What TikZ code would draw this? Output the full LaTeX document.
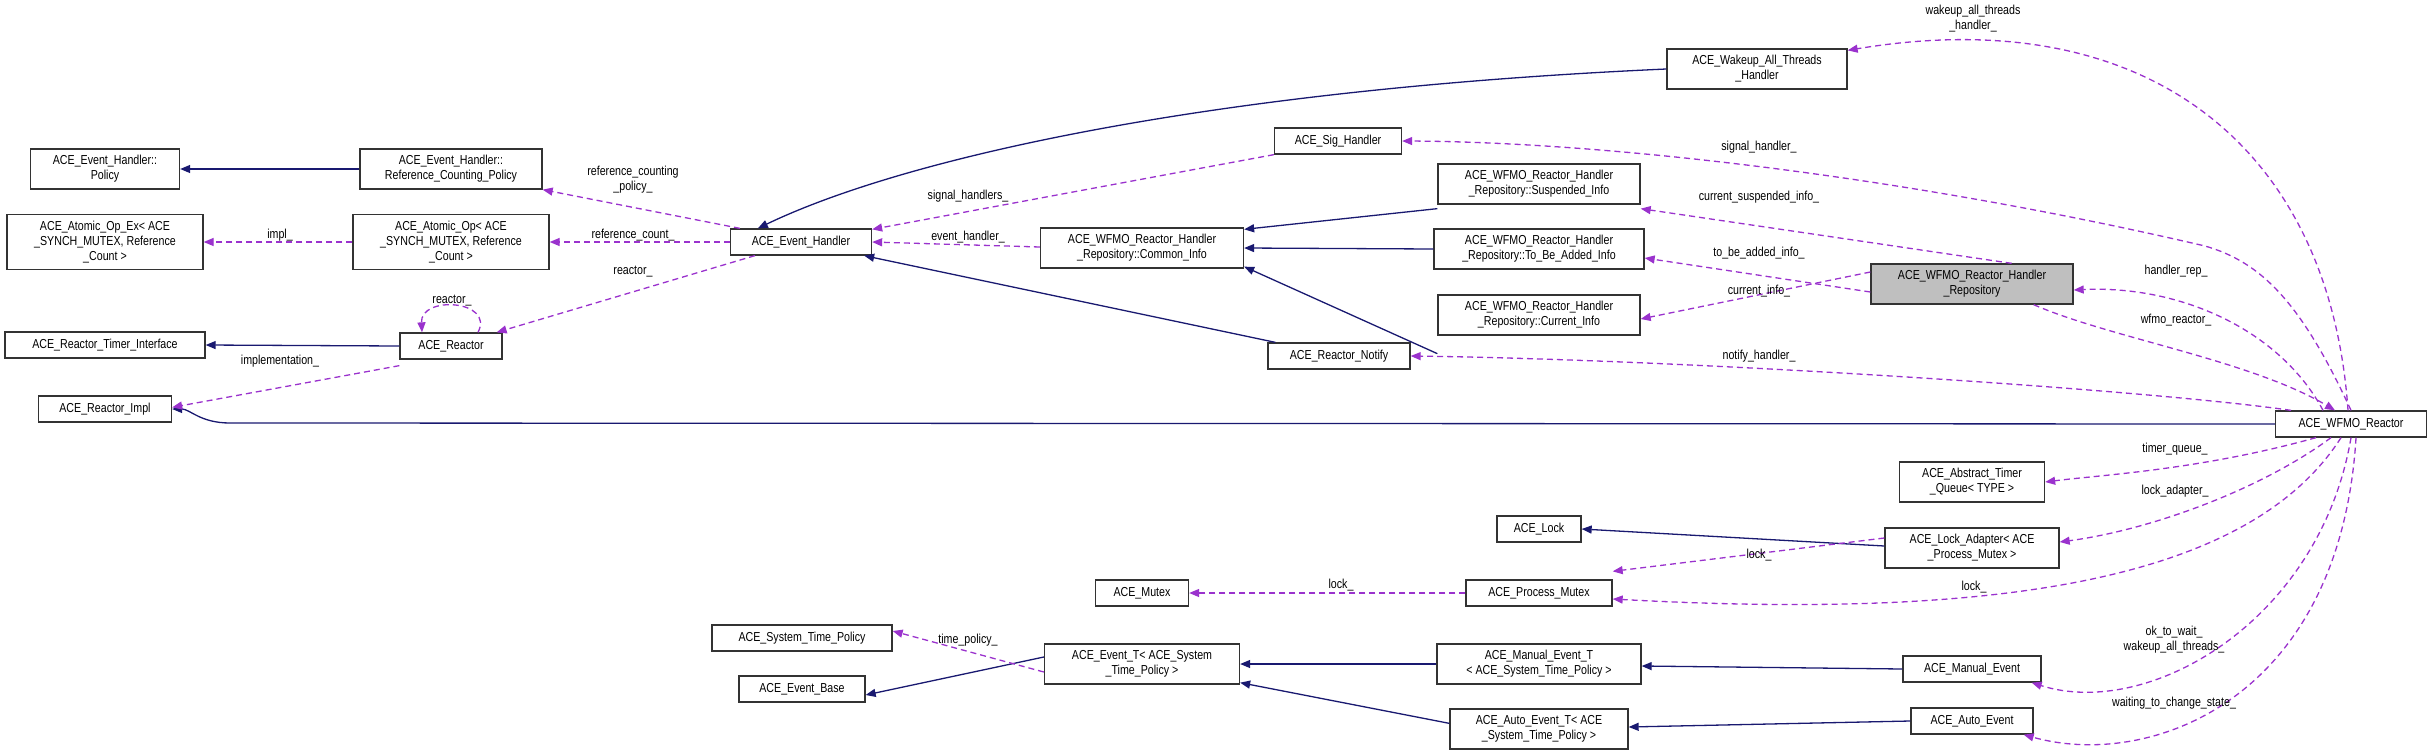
\documentclass[tikz,border=0pt]{standalone}
\usepackage{fontspec}
\setmainfont{Liberation Sans}[FakeStretch=0.82]
\usetikzlibrary{arrows.meta}
\definecolor{inh}{HTML}{191970}
\definecolor{use}{HTML}{9A32CD}
\begin{document}
\begin{tikzpicture}[x=1pt,y=-1pt,
  font=\fontsize{13}{15}\selectfont,
  box/.style={draw=black!80,line width=1.3pt,fill=white,align=center,inner sep=2pt},
  inh/.style={draw=inh,line width=1.3pt,-{Triangle[length=10pt,width=8pt]}},
  use/.style={draw=use,line width=1.3pt,dash pattern=on 6pt off 4pt,-{Triangle[length=10pt,width=8pt]}},
  lab/.style={inner sep=0pt,align=center}]
\useasboundingbox (0,0) rectangle (2432,755);
% nodes
\node[box,minimum width=149pt,minimum height=40pt] (policy) at (105,169) {ACE\_Event\_Handler::\\Policy};
\node[box,minimum width=182pt,minimum height=40pt] (refpol) at (451,169) {ACE\_Event\_Handler::\\Reference\_Counting\_Policy};
\node[box,minimum width=196pt,minimum height=55pt] (atomex) at (105,242) {ACE\_Atomic\_Op\_Ex< ACE\\\_SYNCH\_MUTEX, Reference\\\_Count >};
\node[box,minimum width=196pt,minimum height=55pt] (atom) at (451,242) {ACE\_Atomic\_Op< ACE\\\_SYNCH\_MUTEX, Reference\\\_Count >};
\node[box,minimum width=141pt,minimum height=26pt] (eh) at (801,242) {ACE\_Event\_Handler};
\node[box,minimum width=200pt,minimum height=26pt] (rti) at (105,345) {ACE\_Reactor\_Timer\_Interface};
\node[box,minimum width=102pt,minimum height=26pt] (reactor) at (451,346) {ACE\_Reactor};
\node[box,minimum width=133pt,minimum height=26pt] (impl) at (105,409) {ACE\_Reactor\_Impl};
\node[box,minimum width=127pt,minimum height=26pt] (sig) at (1338,141) {ACE\_Sig\_Handler};
\node[box,minimum width=202pt,minimum height=40pt] (susp) at (1539,184) {ACE\_WFMO\_Reactor\_Handler\\\_Repository::Suspended\_Info};
\node[box,minimum width=210pt,minimum height=40pt] (tba) at (1539,249) {ACE\_WFMO\_Reactor\_Handler\\\_Repository::To\_Be\_Added\_Info};
\node[box,minimum width=202pt,minimum height=40pt] (cur) at (1539,315) {ACE\_WFMO\_Reactor\_Handler\\\_Repository::Current\_Info};
\node[box,minimum width=203pt,minimum height=40pt] (common) at (1142,248) {ACE\_WFMO\_Reactor\_Handler\\\_Repository::Common\_Info};
\node[box,minimum width=142pt,minimum height=26pt] (notify) at (1339,356) {ACE\_Reactor\_Notify};
\node[box,minimum width=180pt,minimum height=40pt] (wake) at (1757,69) {ACE\_Wakeup\_All\_Threads\\\_Handler};
\node[box,minimum width=202pt,minimum height=40pt,fill=black!25] (repo) at (1972,284) {ACE\_WFMO\_Reactor\_Handler\\\_Repository};
\node[box,minimum width=151pt,minimum height=26pt] (wfmo) at (2351,424) {ACE\_WFMO\_Reactor};
\node[box,minimum width=145pt,minimum height=40pt] (timer) at (1972,482) {ACE\_Abstract\_Timer\\\_Queue< TYPE >};
\node[box,minimum width=84pt,minimum height=26pt] (lock) at (1539,529) {ACE\_Lock};
\node[box,minimum width=174pt,minimum height=40pt] (ladapt) at (1972,548) {ACE\_Lock\_Adapter< ACE\\\_Process\_Mutex >};
\node[box,minimum width=146pt,minimum height=26pt] (pm) at (1539,593) {ACE\_Process\_Mutex};
\node[box,minimum width=204pt,minimum height=40pt] (met) at (1539,664) {ACE\_Manual\_Event\_T\\< ACE\_System\_Time\_Policy >};
\node[box,minimum width=178pt,minimum height=40pt] (aet) at (1539,729) {ACE\_Auto\_Event\_T< ACE\\\_System\_Time\_Policy >};
\node[box,minimum width=138pt,minimum height=26pt] (me) at (1972,669) {ACE\_Manual\_Event};
\node[box,minimum width=122pt,minimum height=26pt] (ae) at (1972,721) {ACE\_Auto\_Event};
\node[box,minimum width=93pt,minimum height=26pt] (mutex) at (1142,593) {ACE\_Mutex};
\node[box,minimum width=180pt,minimum height=26pt] (stp) at (802,638) {ACE\_System\_Time\_Policy};
\node[box,minimum width=126pt,minimum height=26pt] (ebase) at (802,689) {ACE\_Event\_Base};
\node[box,minimum width=195pt,minimum height=40pt] (et) at (1142,664) {ACE\_Event\_T< ACE\_System\\\_Time\_Policy >};
% inheritance
\draw[inh] (refpol.west) -- (policy.east);
\draw[inh] (reactor.west) -- (rti.east);
\draw[inh] (wake.west) .. controls (1200,90) and (900,160) .. ([xshift=28pt]eh.north west);
\draw[inh] ([xshift=8pt]notify.north west) -- ([xshift=-8pt]eh.south east);
\draw[inh] ([yshift=-4pt]susp.south west) -- ([yshift=-2pt]common.north east);
\draw[inh] (tba.west) -- (common.east);
\draw[inh] ([yshift=-18pt]cur.south west) -- ([yshift=2pt]common.south east);
\draw[inh] (wfmo.west) -- (230,423) .. controls (200,423) and (190,409) .. (impl.east);
\draw[inh] ([yshift=2pt]ladapt.west) -- (lock.east);
\draw[inh] (met.west) -- (et.east);
\draw[inh] ([yshift=-15pt]aet.north west) -- ([yshift=2pt]et.south east);
\draw[inh] ([yshift=7pt]et.west) -- ([yshift=-6pt]ebase.east);
\draw[inh] (me.west) -- ([yshift=-2pt]met.east);
\draw[inh] (ae.west) -- ([yshift=2pt]aet.east);
% usage
\draw[use] ([xshift=10pt]eh.north west) -- (refpol.south east);
\draw[use] (eh.west) -- (atom.east);
\draw[use] (atom.west) -- (atomex.east);
\draw[use] ([xshift=25pt]eh.south west) -- ([xshift=-6pt]reactor.north east);
\draw[use] ([xshift=27pt]reactor.north) .. controls (495,300) and (420,295) .. ([xshift=-29pt]reactor.north);
\draw[use] ([yshift=-6pt]reactor.south west) -- ([yshift=-12pt]impl.north east);
\draw[use] (sig.south west) -- ([yshift=-1pt]eh.north east);
\draw[use] ([yshift=1pt]common.west) -- (eh.east);
\draw[use] (wfmo.north) .. controls (2300,300) and (2260,262) .. (2205,246) .. controls (1900,175) and (1600,142) .. (sig.east);
\draw[use] ([xshift=-62pt]repo.north east) -- ([yshift=-4pt]susp.south east);
\draw[use] ([yshift=-8pt]repo.west) -- ([yshift=-9pt]tba.east);
\draw[use] ([yshift=12pt]repo.west) -- ([yshift=-4pt]cur.east);
\draw[use] ([xshift=-28pt]wfmo.north) .. controls (2280,330) and (2180,285) .. ([yshift=-6pt]repo.east);
\draw[use] ([xshift=-40pt]repo.south east) .. controls (2110,338) and (2250,360) .. ([xshift=-16pt]wfmo.north);
\draw[use] ([xshift=-60pt]wfmo.north) .. controls (2150,390) and (1700,360) .. (notify.east);
\draw[use] ([xshift=-3pt]wfmo.north) .. controls (2330,150) and (2150,0) .. ([yshift=-2pt]wake.north east);
\draw[use] ([xshift=-35pt]wfmo.south) .. controls (2200,470) and (2100,475) .. (timer.east);
\draw[use] ([xshift=-20pt]wfmo.south) .. controls (2260,490) and (2150,530) .. ([yshift=6pt]ladapt.east);
\draw[use] ([xshift=-10pt]wfmo.south) .. controls (2250,580) and (2000,620) .. ([yshift=-6pt]pm.east);
\draw[use] ([yshift=10pt]ladapt.west) -- ([yshift=8pt]pm.north east);
\draw[use] (pm.west) -- (mutex.east);
\draw[use] ([yshift=-8pt]et.west) -- ([yshift=7pt]stp.east);
\draw[use] (wfmo.south) .. controls (2320,620) and (2150,720) .. ([xshift=-10pt]me.south east);
\draw[use] ([xshift=5pt]wfmo.south) .. controls (2340,700) and (2150,770) .. ([xshift=-10pt]ae.south east);
% labels
\node[lab] (l1) at (633,180) {reference\_counting\\\_policy\_};
\node[lab] (l2) at (633,235) {reference\_count\_};
\node[lab] (l3) at (280,235) {impl\_};
\node[lab] (l4) at (633,272) {reactor\_};
\node[lab] (l5) at (452,301) {reactor\_};
\node[lab] (l6) at (280,361) {implementation\_};
\node[lab] (l7) at (968,196) {signal\_handlers\_};
\node[lab] (l8) at (968,237) {event\_handler\_};
\node[lab] (l9) at (1759,147) {signal\_handler\_};
\node[lab] (l10) at (1759,197) {current\_suspended\_info\_};
\node[lab] (l11) at (1759,253) {to\_be\_added\_info\_};
\node[lab] (l12) at (1759,291) {current\_info\_};
\node[lab] (l13) at (2176,271) {handler\_rep\_};
\node[lab] (l14) at (2176,320) {wfmo\_reactor\_};
\node[lab] (l15) at (1759,356) {notify\_handler\_};
\node[lab] (l16) at (1973,19) {wakeup\_all\_threads\\\_handler\_};
\node[lab] (l17) at (2175,449) {timer\_queue\_};
\node[lab] (l18) at (2175,491) {lock\_adapter\_};
\node[lab] (l19) at (1759,555) {lock\_};
\node[lab] (l20) at (1974,587) {lock\_};
\node[lab] (l21) at (1341,585) {lock\_};
\node[lab] (l22) at (968,640) {time\_policy\_};
\node[lab] (l23) at (2174,640) {ok\_to\_wait\_\\wakeup\_all\_threads\_};
\node[lab] (l24) at (2174,703) {waiting\_to\_change\_state\_};
\end{tikzpicture}
\end{document}
